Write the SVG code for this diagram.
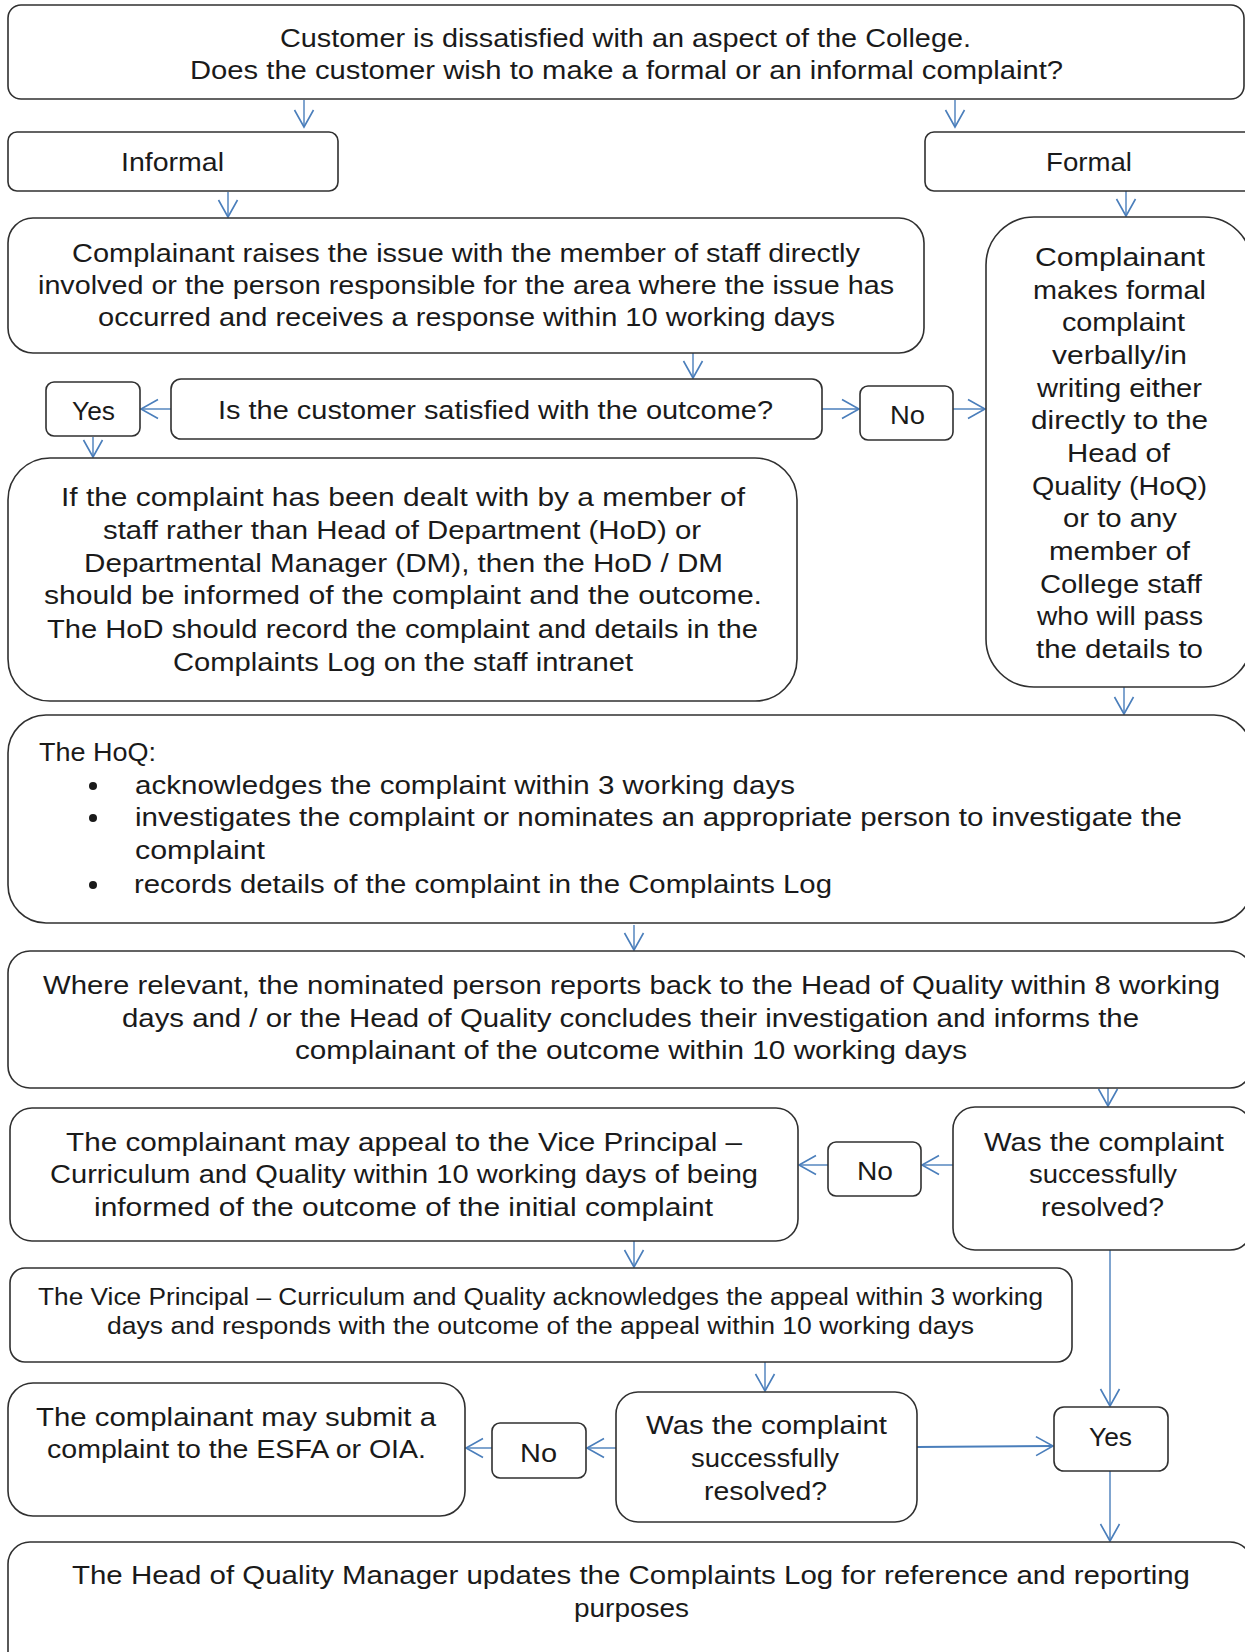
<svg xmlns="http://www.w3.org/2000/svg" width="1245" height="1652" viewBox="0 0 1245 1652">
<defs>
<style>
.box{fill:#fff;stroke:#303030;stroke-width:1.6}
.t{font-family:"Liberation Sans",Arial,sans-serif;font-size:26px;fill:#1a1a1a}
.s{font-family:"Liberation Sans",Arial,sans-serif;font-size:23px;fill:#1a1a1a}
.c{fill:none;stroke:#4a7ebb;stroke-width:1.4}
.c2{fill:none;stroke:#4a7ebb;stroke-width:2.2}
</style>
<marker id="ah" markerUnits="userSpaceOnUse" viewBox="-20 -12 22 24" markerWidth="22" markerHeight="24" refX="0" refY="0" orient="auto" overflow="visible">
<path d="M-17,-9.5 L0,0 L-17,9.5" fill="none" stroke="#4a7ebb" stroke-width="1.6"/>
</marker>
</defs>
<rect width="1245" height="1652" fill="#fff"/>

<g id="connectors">
<line class="c" x1="304" y1="100" x2="304" y2="127" marker-end="url(#ah)"/>
<line class="c" x1="955" y1="100" x2="955" y2="127" marker-end="url(#ah)"/>
<line class="c" x1="228" y1="192" x2="228" y2="217" marker-end="url(#ah)"/>
<line class="c" x1="1126" y1="190" x2="1126" y2="216" marker-end="url(#ah)"/>
<line class="c" x1="693" y1="352" x2="693" y2="378" marker-end="url(#ah)"/>
<line class="c" x1="171" y1="409" x2="141" y2="409" marker-end="url(#ah)"/>
<line class="c" x1="822" y1="409" x2="859" y2="409" marker-end="url(#ah)"/>
<line class="c" x1="953" y1="409" x2="985" y2="409" marker-end="url(#ah)"/>
<line class="c" x1="93" y1="437" x2="93" y2="457" marker-end="url(#ah)"/>
<line class="c" x1="1124" y1="687" x2="1124" y2="714" marker-end="url(#ah)"/>
<line class="c" x1="634" y1="925" x2="634" y2="950" marker-end="url(#ah)"/>
<line class="c" x1="1108" y1="1078" x2="1108" y2="1106" marker-end="url(#ah)"/>
<line class="c" x1="953" y1="1165" x2="922" y2="1165" marker-end="url(#ah)"/>
<line class="c" x1="828" y1="1165" x2="799" y2="1165" marker-end="url(#ah)"/>
<line class="c" x1="634" y1="1240" x2="634" y2="1267" marker-end="url(#ah)"/>
<line class="c" x1="765" y1="1362" x2="765" y2="1391" marker-end="url(#ah)"/>
<line class="c" x1="1110" y1="1227" x2="1110" y2="1406" marker-end="url(#ah)"/>
<line class="c" x1="616" y1="1448" x2="587" y2="1448" marker-end="url(#ah)"/>
<line class="c" x1="492" y1="1448" x2="466" y2="1448" marker-end="url(#ah)"/>
<line class="c2" x1="917" y1="1447" x2="1053" y2="1446" marker-end="url(#ah)"/>
<line class="c" x1="1110" y1="1471" x2="1110" y2="1541" marker-end="url(#ah)"/>
</g>

<g id="start">
<rect class="box" x="8" y="5" width="1236" height="94" rx="13"/>
<text class="t" x="280" y="47" textLength="691" lengthAdjust="spacingAndGlyphs">Customer is dissatisfied with an aspect of the College.</text>
<text class="t" x="190" y="79" textLength="873" lengthAdjust="spacingAndGlyphs">Does the customer wish to make a formal or an informal complaint?</text>
</g>

<g id="informal">
<rect class="box" x="8" y="132" width="330" height="59" rx="9"/>
<text class="t" x="121" y="171" textLength="103" lengthAdjust="spacingAndGlyphs">Informal</text>
</g>

<g id="formal">
<rect class="box" x="925" y="132" width="345" height="59" rx="9"/>
<text class="t" x="1046" y="171" textLength="86" lengthAdjust="spacingAndGlyphs">Formal</text>
</g>

<g id="raise-issue">
<rect class="box" x="8" y="218" width="916" height="135" rx="25"/>
<text class="t" x="72" y="262" textLength="788" lengthAdjust="spacingAndGlyphs">Complainant raises the issue with the member of staff directly</text>
<text class="t" x="38" y="294" textLength="856" lengthAdjust="spacingAndGlyphs">involved or the person responsible for the area where the issue has</text>
<text class="t" x="98" y="326" textLength="737" lengthAdjust="spacingAndGlyphs">occurred and receives a response within 10 working days</text>
</g>

<g id="formal-complaint">
<rect class="box" x="986" y="217" width="266" height="470" rx="48"/>
<text class="t" x="1035" y="266" textLength="170" lengthAdjust="spacingAndGlyphs">Complainant</text>
<text class="t" x="1033" y="299" textLength="173" lengthAdjust="spacingAndGlyphs">makes formal</text>
<text class="t" x="1062" y="331" textLength="123" lengthAdjust="spacingAndGlyphs">complaint</text>
<text class="t" x="1052" y="364" textLength="135" lengthAdjust="spacingAndGlyphs">verbally/in</text>
<text class="t" x="1037" y="397" textLength="165" lengthAdjust="spacingAndGlyphs">writing either</text>
<text class="t" x="1031" y="429" textLength="177" lengthAdjust="spacingAndGlyphs">directly to the</text>
<text class="t" x="1067" y="462" textLength="103" lengthAdjust="spacingAndGlyphs">Head of</text>
<text class="t" x="1032" y="495" textLength="175" lengthAdjust="spacingAndGlyphs">Quality (HoQ)</text>
<text class="t" x="1063" y="527" textLength="114" lengthAdjust="spacingAndGlyphs">or to any</text>
<text class="t" x="1049" y="560" textLength="141" lengthAdjust="spacingAndGlyphs">member of</text>
<text class="t" x="1040" y="593" textLength="162" lengthAdjust="spacingAndGlyphs">College staff</text>
<text class="t" x="1037" y="625" textLength="166" lengthAdjust="spacingAndGlyphs">who will pass</text>
<text class="t" x="1036" y="658" textLength="167" lengthAdjust="spacingAndGlyphs">the details to</text>
</g>

<g id="satisfied">
<rect class="box" x="171" y="379" width="651" height="60" rx="10"/>
<text class="t" x="218" y="419" textLength="555" lengthAdjust="spacingAndGlyphs">Is the customer satisfied with the outcome?</text>
</g>

<g id="yes1">
<rect class="box" x="46" y="382" width="94" height="54" rx="8"/>
<text class="t" x="72" y="420" textLength="43" lengthAdjust="spacingAndGlyphs">Yes</text>
</g>

<g id="no1">
<rect class="box" x="860" y="386" width="93" height="54" rx="8"/>
<text class="t" x="890" y="424" textLength="35" lengthAdjust="spacingAndGlyphs">No</text>
</g>

<g id="inform-hod">
<rect class="box" x="8" y="458" width="789" height="243" rx="42"/>
<text class="t" x="61" y="506" textLength="684" lengthAdjust="spacingAndGlyphs">If the complaint has been dealt with by a member of</text>
<text class="t" x="103" y="539" textLength="598" lengthAdjust="spacingAndGlyphs">staff rather than Head of Department (HoD) or</text>
<text class="t" x="84" y="572" textLength="639" lengthAdjust="spacingAndGlyphs">Departmental Manager (DM), then the HoD / DM</text>
<text class="t" x="44" y="604" textLength="718" lengthAdjust="spacingAndGlyphs">should be informed of the complaint and the outcome.</text>
<text class="t" x="47" y="638" textLength="711" lengthAdjust="spacingAndGlyphs">The HoD should record the complaint and details in the</text>
<text class="t" x="173" y="671" textLength="460" lengthAdjust="spacingAndGlyphs">Complaints Log on the staff intranet</text>
</g>

<g id="hoq">
<rect class="box" x="8" y="715" width="1244" height="208" rx="38"/>
<text class="t" x="39" y="761" textLength="117" lengthAdjust="spacingAndGlyphs">The HoQ:</text>
<circle cx="93" cy="786" r="4" fill="#1a1a1a"/>
<circle cx="93" cy="818" r="4" fill="#1a1a1a"/>
<circle cx="93" cy="885" r="4" fill="#1a1a1a"/>
<text class="t" x="135" y="794" textLength="660" lengthAdjust="spacingAndGlyphs">acknowledges the complaint within 3 working days</text>
<text class="t" x="135" y="826" textLength="1047" lengthAdjust="spacingAndGlyphs">investigates the complaint or nominates an appropriate person to investigate the</text>
<text class="t" x="135" y="859" textLength="130" lengthAdjust="spacingAndGlyphs">complaint</text>
<text class="t" x="134" y="893" textLength="698" lengthAdjust="spacingAndGlyphs">records details of the complaint in the Complaints Log</text>
</g>

<g id="report-back">
<rect class="box" x="8" y="951" width="1244" height="137" rx="22"/>
<text class="t" x="43" y="994" textLength="1177" lengthAdjust="spacingAndGlyphs">Where relevant, the nominated person reports back to the Head of Quality within 8 working</text>
<text class="t" x="122" y="1027" textLength="1017" lengthAdjust="spacingAndGlyphs">days and / or the Head of Quality concludes their investigation and informs the</text>
<text class="t" x="295" y="1059" textLength="672" lengthAdjust="spacingAndGlyphs">complainant of the outcome within 10 working days</text>
</g>

<g id="resolved1">
<rect class="box" x="953" y="1107" width="299" height="143" rx="22"/>
<text class="t" x="984" y="1151" textLength="240" lengthAdjust="spacingAndGlyphs">Was the complaint</text>
<text class="t" x="1029" y="1183" textLength="148" lengthAdjust="spacingAndGlyphs">successfully</text>
<text class="t" x="1041" y="1216" textLength="123" lengthAdjust="spacingAndGlyphs">resolved?</text>
</g>

<g id="no2">
<rect class="box" x="828" y="1142" width="93" height="54" rx="8"/>
<text class="t" x="857" y="1180" textLength="36" lengthAdjust="spacingAndGlyphs">No</text>
</g>

<g id="appeal">
<rect class="box" x="10" y="1108" width="788" height="133" rx="22"/>
<text class="t" x="66" y="1151" textLength="676" lengthAdjust="spacingAndGlyphs">The complainant may appeal to the Vice Principal –</text>
<text class="t" x="50" y="1183" textLength="708" lengthAdjust="spacingAndGlyphs">Curriculum and Quality within 10 working days of being</text>
<text class="t" x="94" y="1216" textLength="619" lengthAdjust="spacingAndGlyphs">informed of the outcome of the initial complaint</text>
</g>

<g id="vp-response">
<rect class="box" x="10" y="1268" width="1062" height="94" rx="15"/>
<text class="s" x="38" y="1305" textLength="1005" lengthAdjust="spacingAndGlyphs">The Vice Principal – Curriculum and Quality acknowledges the appeal within 3 working</text>
<text class="s" x="107" y="1334" textLength="867" lengthAdjust="spacingAndGlyphs">days and responds with the outcome of the appeal within 10 working days</text>
</g>

<g id="esfa">
<rect class="box" x="8" y="1383" width="457" height="133" rx="25"/>
<text class="t" x="36" y="1426" textLength="400" lengthAdjust="spacingAndGlyphs">The complainant may submit a</text>
<text class="t" x="47" y="1458" textLength="379" lengthAdjust="spacingAndGlyphs">complaint to the ESFA or OIA.</text>
</g>

<g id="no3">
<rect class="box" x="492" y="1423" width="94" height="55" rx="8"/>
<text class="t" x="520" y="1462" textLength="37" lengthAdjust="spacingAndGlyphs">No</text>
</g>

<g id="resolved2">
<rect class="box" x="616" y="1392" width="301" height="130" rx="22"/>
<text class="t" x="646" y="1434" textLength="241" lengthAdjust="spacingAndGlyphs">Was the complaint</text>
<text class="t" x="691" y="1467" textLength="148" lengthAdjust="spacingAndGlyphs">successfully</text>
<text class="t" x="704" y="1500" textLength="123" lengthAdjust="spacingAndGlyphs">resolved?</text>
</g>

<g id="yes2">
<rect class="box" x="1054" y="1407" width="114" height="64" rx="10"/>
<text class="t" x="1089" y="1446" textLength="43" lengthAdjust="spacingAndGlyphs">Yes</text>
</g>

<g id="update-log">
<rect class="box" x="8" y="1542" width="1244" height="140" rx="22"/>
<text class="t" x="72" y="1584" textLength="1118" lengthAdjust="spacingAndGlyphs">The Head of Quality Manager updates the Complaints Log for reference and reporting</text>
<text class="t" x="574" y="1617" textLength="115" lengthAdjust="spacingAndGlyphs">purposes</text>
</g>
</svg>
